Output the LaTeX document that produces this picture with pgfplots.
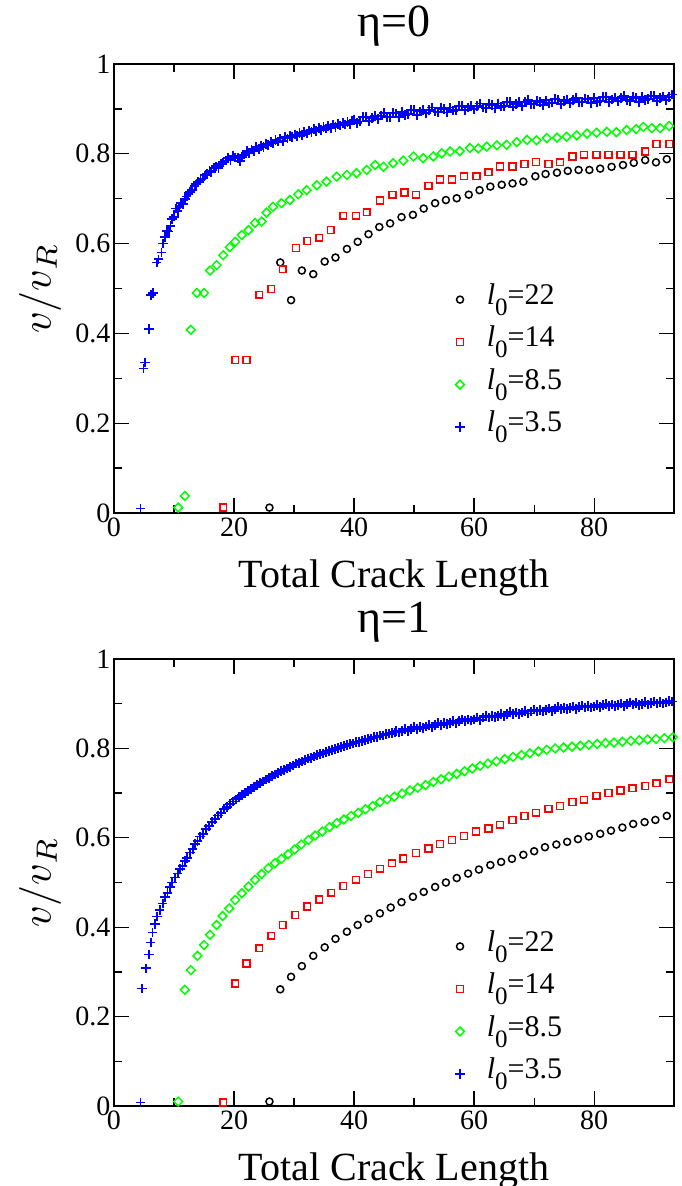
\documentclass[border=0pt]{standalone}
\usepackage{fontspec}
\setmainfont{Liberation Serif}
\usepackage{pgfplots}
\pgfplotsset{compat=1.18}

\newcommand{\lzero}[1]{\fontsize{30}{34}\selectfont{\itshape l}\raisebox{-11pt}{\fontsize{25}{25}\selectfont 0}=#1}

\pgfplotsset{
  crack/.style={
    scale only axis, width=560pt,
    xmin=0, xmax=93.3, ymin=0, ymax=1,
    xtick={0,20,40,60,80}, minor x tick num=1,
    ytick={0,0.2,0.4,0.6,0.8,1}, minor y tick num=1,
    tick align=inside,
    major tick length=15pt, minor tick length=8pt,
    every tick/.style={black, line width=1.3pt},
    axis line style={line width=2.7pt},
    /pgf/number format/assume math mode=true,
    tick label style={font=\fontsize{28}{32}\selectfont},
    xticklabel style={anchor=base, yshift=-23pt},
    yticklabel style={anchor=east, xshift=0pt},
    xlabel={Total Crack Length},
    ylabel={\scalebox{4.2}{$v/v_R$}},
    xlabel style={font=\fontsize{40}{48}\selectfont, at={(axis description cs:0.5,0)}, anchor=base, yshift=-74pt},
    ylabel style={at={(axis description cs:-0.1321,0.5)}, anchor=center},
    title style={font=\fontsize{46}{54}\selectfont, at={(axis description cs:0.5,1)}, anchor=base, yshift=21pt},
    legend style={draw=none, fill=none, anchor=north west, inner sep=0pt,
      row sep=0pt, column sep=22pt,
      nodes={inner sep=0pt, text height=26pt, text depth=16.5pt}},
    legend cell align=left,
  },
  s22/.style={only marks, black, mark=o, mark size=3.5pt, mark options={line width=1.5pt}},
  s14/.style={only marks, red, mark=square, mark size=3.4pt, mark options={line width=1.5pt}},
  s85/.style={only marks, green, mark=square, mark size=3.1pt, mark options={rotate=45, line width=1.5pt}},
  s35/.style={only marks, blue, mark=+, mark size=4.8pt, mark options={line width=1.8pt}},
}

\begin{document}
\begin{tikzpicture}
% eta = 0
\begin{axis}[crack, height=449pt, at={(0,0)}, anchor=south west,
  title={η=0},
  legend style={at={(axis description cs:0.609,0.523)}}]
\addplot[s22] coordinates {
(25.9,0.012)(27.7,0.558)(29.5,0.474)(31.3,0.540)(33.2,0.532)(35.1,0.560)(36.9,0.569)(38.8,0.588)
(40.6,0.604)(42.4,0.621)(44.2,0.637)(46.0,0.645)(47.9,0.659)(49.8,0.664)(51.6,0.678)(53.5,0.690)
(55.3,0.697)(57.1,0.701)(59.1,0.709)(60.9,0.719)(62.7,0.727)(64.6,0.731)(66.4,0.734)(68.2,0.738)
(70.2,0.750)(71.9,0.755)(73.8,0.758)(75.6,0.762)(77.4,0.764)(79.2,0.764)(81.0,0.767)(82.9,0.771)
(84.8,0.775)(86.6,0.780)(88.5,0.786)(90.3,0.781)(92.1,0.788)
};
\addplot[s14] coordinates {
(18.2,0.012)(20.2,0.341)(22.1,0.341)(24.2,0.486)(26.2,0.499)(28.1,0.543)(30.3,0.590)(32.2,0.606)
(34.2,0.613)(36.1,0.630)(38.2,0.662)(40.3,0.662)(42.1,0.670)(44.3,0.696)(46.4,0.709)(48.4,0.714)
(50.3,0.709)(52.4,0.729)(54.3,0.743)(56.3,0.743)(58.3,0.750)(60.4,0.750)(62.4,0.759)(64.3,0.772)
(66.4,0.772)(68.4,0.777)(70.3,0.782)(72.4,0.777)(74.3,0.781)(76.4,0.794)(78.3,0.798)(80.4,0.798)
(82.4,0.798)(84.4,0.798)(86.4,0.798)(88.5,0.805)(90.4,0.822)(92.5,0.822)
};
\addplot[s85] coordinates {
(10.7,0.012)(11.8,0.038)(12.8,0.408)(13.8,0.490)(15.0,0.490)(16.0,0.540)(17.1,0.552)(18.2,0.574)
(19.3,0.592)(20.2,0.604)(21.3,0.619)(22.4,0.630)(23.5,0.646)(24.6,0.649)(25.4,0.669)(26.5,0.682)
(27.9,0.690)(29.3,0.697)(30.7,0.710)(32.1,0.719)(33.8,0.730)(35.4,0.738)(37.1,0.749)(38.8,0.753)
(40.4,0.757)(42.1,0.764)(43.5,0.775)(44.9,0.771)(46.5,0.779)(48.2,0.785)(49.9,0.794)(51.5,0.790)
(53.2,0.794)(54.6,0.801)(56.0,0.805)(57.6,0.806)(59.3,0.813)(60.7,0.812)(62.1,0.816)(63.8,0.819)
(65.4,0.820)(67.1,0.826)(68.8,0.831)(70.4,0.830)(72.1,0.835)(73.8,0.836)(75.4,0.838)(77.1,0.841)
(78.8,0.845)(80.4,0.847)(82.1,0.849)(83.7,0.848)(85.4,0.853)(87.0,0.855)(88.2,0.860)(89.6,0.857)
(91.0,0.857)(92.5,0.862)
};
\addplot[s35] coordinates {
(4.4,0.010)(4.9,0.322)(5.2,0.335)(5.8,0.410)(6.2,0.485)(6.5,0.490)(7.1,0.558)(7.4,0.565)
(7.9,0.580)(8.2,0.600)(8.5,0.615)(8.8,0.628)(9.1,0.627)(9.4,0.640)(9.7,0.655)(10.0,0.660)
(10.3,0.678)(10.6,0.672)(10.9,0.683)(11.2,0.690)(11.5,0.688)(11.8,0.700)(12.1,0.705)(12.4,0.712)
(12.7,0.715)(13.0,0.720)(13.4,0.728)(13.7,0.732)(14.0,0.737)(14.4,0.742)(14.8,0.745)(15.1,0.752)
(15.5,0.755)(15.9,0.762)(16.2,0.760)(16.6,0.769)(17.0,0.772)(17.4,0.768)(17.8,0.778)(18.2,0.781)
(18.6,0.785)(19.0,0.790)(19.4,0.786)(19.8,0.795)(20.2,0.792)(20.6,0.790)(21.0,0.784)(21.3,0.793)
(21.7,0.798)(22.1,0.806)(22.5,0.802)(22.9,0.810)(23.3,0.806)(23.7,0.815)(24.1,0.811)(24.5,0.818)
(24.9,0.815)(25.3,0.822)(25.7,0.819)(26.1,0.826)(26.5,0.823)(26.9,0.831)(27.3,0.827)(27.7,0.834)
(28.1,0.829)(28.5,0.837)(28.9,0.834)(29.3,0.840)(29.7,0.837)(30.1,0.843)(30.5,0.839)(30.9,0.846)
(31.3,0.842)(31.7,0.849)(32.1,0.845)(32.5,0.852)(32.9,0.848)(33.3,0.855)(33.7,0.851)(34.1,0.857)
(34.5,0.853)(34.9,0.860)(35.3,0.856)(35.7,0.862)(36.1,0.857)(36.5,0.865)(36.9,0.860)(37.3,0.867)
(37.7,0.863)(38.1,0.869)(38.5,0.865)(38.9,0.871)(39.3,0.867)(39.7,0.874)
(40,0.875)(40.5,0.869)(41,0.872)(41.5,0.882)(42,0.882)(42.5,0.873)(43,0.880)(43.5,0.884)
(44,0.877)(44.5,0.885)(45,0.891)(45.5,0.882)(46,0.882)(46.5,0.891)(47,0.890)(47.5,0.882)
(48,0.893)(48.5,0.886)(49,0.889)(49.5,0.898)(50,0.897)(50.5,0.887)(51,0.894)(51.5,0.898)
(52,0.890)(52.5,0.898)(53,0.903)(53.5,0.894)(54,0.893)(54.5,0.902)(55,0.900)(55.5,0.892)
(56,0.903)(56.5,0.896)(57,0.898)(57.5,0.907)(58,0.907)(58.5,0.897)(59,0.903)(59.5,0.907)
(60,0.899)(60.5,0.907)(61,0.912)(61.5,0.903)(62,0.902)(62.5,0.911)(63,0.909)(63.5,0.901)
(64,0.912)(64.5,0.905)(65,0.907)(65.5,0.916)(66,0.915)(66.5,0.905)(67,0.911)(67.5,0.915)
(68,0.907)(68.5,0.915)(69,0.920)(69.5,0.911)(70,0.910)(70.5,0.918)(71,0.916)(71.5,0.908)
(72,0.919)(72.5,0.912)(73,0.914)(73.5,0.922)(74,0.921)(74.5,0.911)(75,0.917)(75.5,0.921)
(76,0.913)(76.5,0.920)(77,0.925)(77.5,0.916)(78,0.915)(78.5,0.923)(79,0.921)(79.5,0.913)
(80,0.924)(80.5,0.916)(81,0.918)(81.5,0.927)(82,0.926)(82.5,0.915)(83,0.921)(83.5,0.925)
(84,0.917)(84.5,0.924)(85,0.929)(85.5,0.919)(86,0.918)(86.5,0.927)(87,0.925)(87.5,0.916)
(88,0.927)(88.5,0.920)(89,0.922)(89.5,0.930)(90,0.929)(90.5,0.918)(91,0.924)(91.5,0.928)
(92,0.920)(92.5,0.927)(93,0.932)
};
\legend{\lzero{22},\lzero{14},\lzero{8.5},\lzero{3.5}}
\end{axis}

% eta = 1
\begin{axis}[crack, height=447pt, at={(0,-593pt)}, anchor=south west,
  title={η=1},
  legend style={at={(axis description cs:0.609,0.405)}}]
\addplot[s22] coordinates {
(25.9,0.010)(27.7,0.261)(29.5,0.289)(31.3,0.313)(33.2,0.336)(35.1,0.355)(36.9,0.374)(38.8,0.390)
(40.6,0.405)(42.4,0.419)(44.3,0.431)(46.1,0.444)(47.9,0.456)(49.8,0.468)(51.6,0.479)(53.5,0.490)
(55.3,0.500)(57.1,0.510)(59.0,0.520)(60.8,0.529)(62.7,0.539)(64.5,0.546)(66.3,0.553)(68.2,0.562)
(70.0,0.570)(71.8,0.579)(73.7,0.585)(75.5,0.591)(77.3,0.597)(79.1,0.603)(81.0,0.609)(82.8,0.616)
(84.7,0.623)(86.5,0.631)(88.4,0.635)(90.2,0.640)(92.1,0.649)
};
\addplot[s14] coordinates {
(18.2,0.008)(20.2,0.274)(22.1,0.319)(24.2,0.353)(26.2,0.381)(28.1,0.405)(30.2,0.427)(32.2,0.446)
(34.2,0.462)(36.2,0.477)(38.2,0.492)(40.3,0.506)(42.3,0.519)(44.3,0.531)(46.3,0.543)(48.2,0.554)
(50.3,0.566)(52.4,0.576)(54.3,0.586)(56.3,0.595)(58.3,0.604)(60.3,0.614)(62.4,0.621)(64.3,0.629)
(66.4,0.640)(68.4,0.649)(70.3,0.656)(72.4,0.665)(74.3,0.671)(76.4,0.680)(78.3,0.685)(80.4,0.694)
(82.4,0.700)(84.4,0.706)(86.4,0.711)(88.5,0.716)(90.4,0.722)(92.5,0.731)
};
\addplot[s85] coordinates {
(10.7,0.010)(11.8,0.260)(12.8,0.304)(13.9,0.336)(15.0,0.360)(16.0,0.383)(17.1,0.405)(18.1,0.425)
(19.2,0.442)(20.2,0.461)(21.3,0.476)(22.4,0.491)(23.5,0.506)(24.6,0.519)(25.7,0.532)(26.8,0.543)
(27.9,0.553)(29.0,0.563)(30.1,0.574)(31.2,0.585)(32.4,0.595)(33.5,0.605)(34.7,0.614)(35.9,0.624)
(37.1,0.633)(38.3,0.641)(39.5,0.649)(40.7,0.656)(41.9,0.664)(43.1,0.671)(44.3,0.680)(45.5,0.686)
(46.7,0.692)(48.0,0.699)(49.3,0.706)(50.6,0.712)(51.9,0.718)(53.2,0.725)(54.5,0.731)(55.8,0.737)
(57.1,0.743)(58.4,0.749)(59.7,0.755)(61.0,0.761)(62.3,0.766)(63.7,0.771)(65.1,0.776)(66.5,0.781)
(67.9,0.785)(69.3,0.789)(70.7,0.793)(72.1,0.797)(73.5,0.800)(74.9,0.802)(76.3,0.804)(77.7,0.806)
(79.1,0.808)(80.5,0.810)(81.9,0.812)(83.3,0.813)(84.7,0.815)(86.1,0.817)(87.5,0.818)(88.9,0.820)
(90.3,0.821)(91.7,0.823)(93.1,0.825)
};
\addplot[s35] coordinates {
(4.4,0.008)(4.7,0.263)(5.3,0.308)(5.8,0.339)(6.1,0.366)(6.4,0.388)(6.8,0.407)(7.2,0.424)
(7.6,0.438)(8.1,0.453)(8.5,0.467)(8.9,0.477)(9.3,0.490)(9.7,0.500)(10.2,0.511)(10.6,0.520)
(11.0,0.530)(11.4,0.537)(11.8,0.548)(12.2,0.555)(12.7,0.567)(13.1,0.575)(13.5,0.586)(13.9,0.593)
(14.3,0.603)(14.8,0.609)(15.3,0.620)(15.8,0.627)(16.3,0.636)(16.8,0.642)(17.3,0.650)(17.8,0.656)
(18.3,0.664)(18.8,0.669)(19.3,0.676)(19.8,0.681)(20.3,0.686)(20.8,0.691)(21.3,0.696)(21.8,0.700)
(22.3,0.705)(22.8,0.709)(23.3,0.714)(23.8,0.718)(24.3,0.722)(24.8,0.726)(25.3,0.730)(25.8,0.734)
(26.3,0.738)(26.8,0.742)(27.3,0.745)(27.8,0.749)(28.3,0.752)(28.8,0.755)(29.3,0.759)(29.8,0.762)
(30.3,0.766)(30.8,0.768)(31.3,0.771)(31.8,0.774)(32.3,0.777)(32.8,0.779)(33.3,0.782)(33.8,0.785)
(34.3,0.787)(34.8,0.789)(35.3,0.792)(35.8,0.794)(36.3,0.797)(36.8,0.799)(37.3,0.801)(37.8,0.803)
(38.3,0.806)(38.8,0.807)(39.3,0.810)(39.8,0.811)(40.3,0.814)(40.8,0.815)(41.3,0.817)(41.8,0.819)
(42.3,0.821)(42.8,0.822)(43.3,0.825)(43.8,0.826)(44.3,0.829)(44.8,0.829)(45.3,0.832)(45.8,0.833)
(46.3,0.835)(46.8,0.836)
(47,0.839)(47.5,0.836)(48,0.839)(48.5,0.844)(49,0.839)(49.5,0.844)(50,0.848)(50.5,0.844)
(51,0.848)(51.5,0.846)(52,0.849)(52.5,0.853)(53,0.848)(53.5,0.853)(54,0.857)(54.5,0.853)
(55,0.857)(55.5,0.854)(56,0.857)(56.5,0.861)(57,0.856)(57.5,0.861)(58,0.865)(58.5,0.861)
(59,0.865)(59.5,0.862)(60,0.865)(60.5,0.869)(61,0.864)(61.5,0.869)(62,0.873)(62.5,0.869)
(63,0.873)(63.5,0.870)(64,0.873)(64.5,0.877)(65,0.872)(65.5,0.877)(66,0.881)(66.5,0.8765)
(67,0.880)(67.5,0.877)(68,0.880)(68.5,0.8835)(69,0.878)(69.5,0.883)(70,0.887)(70.5,0.8825)
(71,0.886)(71.5,0.883)(72,0.886)(72.5,0.8895)(73,0.884)(73.5,0.8885)(74,0.892)(74.5,0.8875)
(75,0.891)(75.5,0.8875)(76,0.890)(76.5,0.8935)(77,0.888)(77.5,0.8925)(78,0.896)(78.5,0.8915)
(79,0.895)(79.5,0.8915)(80,0.894)(80.5,0.8975)(81,0.892)(81.5,0.8965)(82,0.900)(82.5,0.895)
(83,0.898)(83.5,0.8945)(84,0.897)(84.5,0.9005)(85,0.895)(85.5,0.8995)(86,0.903)(86.5,0.898)
(87,0.901)(87.5,0.8975)(88,0.900)(88.5,0.9035)(89,0.898)(89.5,0.902)(90,0.905)(90.5,0.9005)
(91,0.904)(91.5,0.9005)(92,0.903)(92.5,0.9065)(93,0.905)
};
\legend{\lzero{22},\lzero{14},\lzero{8.5},\lzero{3.5}}
\end{axis}
\pgfresetboundingbox
\path (-114pt,513pt) rectangle (567pt,-673pt);
\end{tikzpicture}
\end{document}
